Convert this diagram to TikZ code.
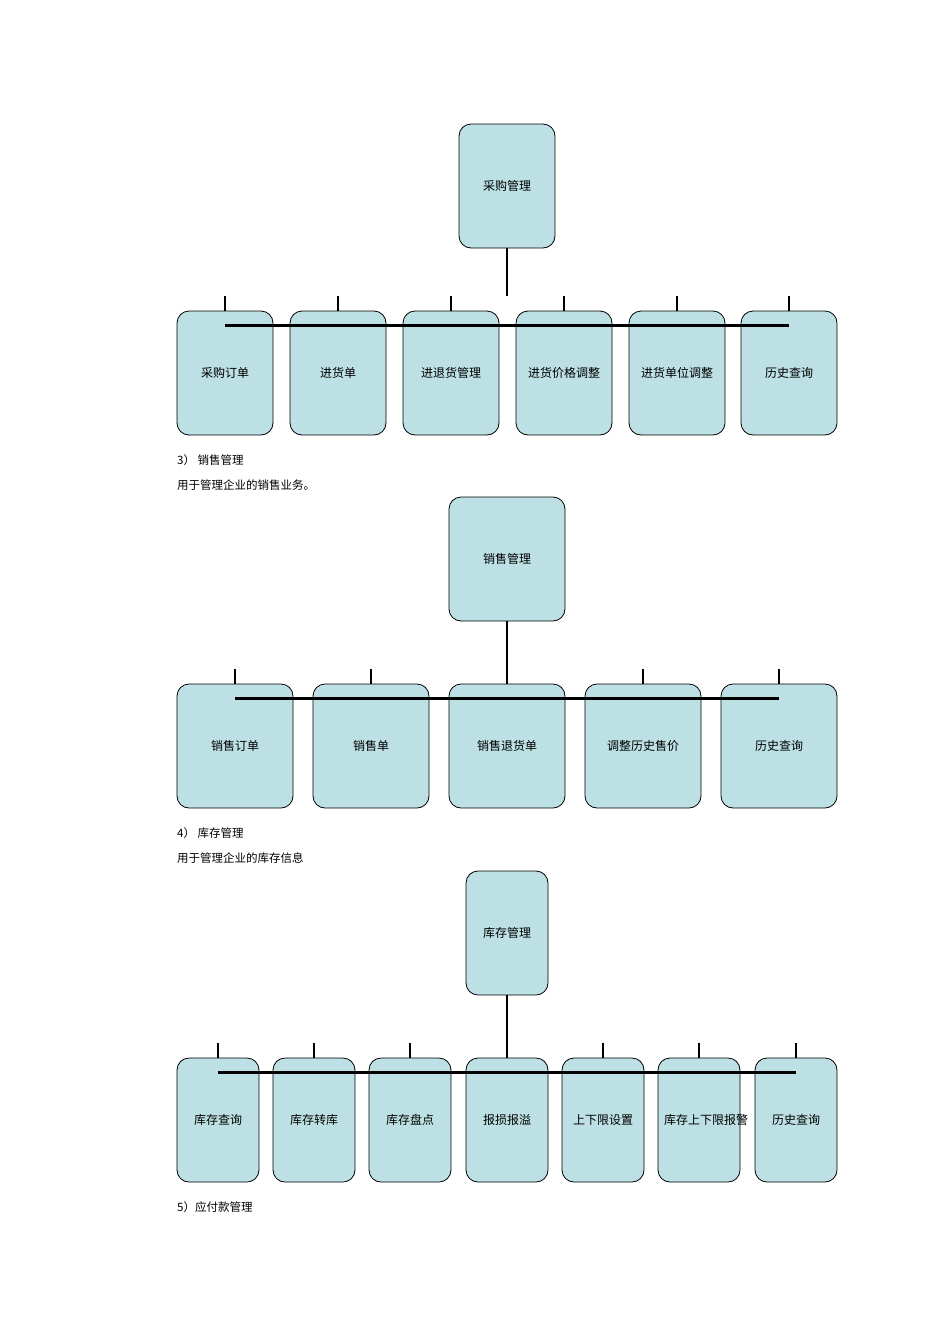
\documentclass[tikz,border=0pt]{standalone}
\usepackage{fontspec}
\setmainfont{Noto Sans CJK SC}
\definecolor{boxc}{HTML}{BCE0E3}
\begin{document}
\begin{tikzpicture}[x=1pt,y=-1pt,
  bx/.style={draw=black,line width=0.8pt,fill=boxc,rounded corners=12pt,align=center,font=\fontsize{12}{13}\selectfont,inner sep=2pt},
  ln/.style={line width=2.6pt},
  tx/.style={anchor=west,font=\fontsize{11.5}{13}\selectfont,inner sep=0pt}]
\useasboundingbox (0,0) rectangle (950,1344);
\newcommand{\bxn}[6]{\node[bx,minimum width=#4pt,minimum height=124pt,text width=#4pt-8pt] (#1) at (#2,#3) {#6};}
% diagram 1
\node[bx,minimum width=96pt,minimum height=124pt] (t1) at (507,186) {采购管理};
\foreach \n/\x/\s in {a/225/采购订单,b/338/进货单,c/451/进退货管理,d/564/进货价格调整,e/677/进货单位调整,f/789/历史查询}{
  \node[bx,minimum width=96pt,minimum height=124pt,text width=88pt] (\n1) at (\x,373) {\s};
  \draw[ln] (\n1.north) -- ++(0,-15);
}
\draw[ln] (t1.south) -- (507,296);
\draw[ln] ([yshift=-15pt]a1.north) -- ([yshift=-15pt]f1.north);
\node[tx] (h3) at (177,460) {3） 销售管理};
\node[tx] (d3) at (177,485) {用于管理企业的销售业务。};
% diagram 2
\node[bx,minimum width=116pt,minimum height=124pt] (t2) at (507,559) {销售管理};
\foreach \n/\x/\s in {a/235/销售订单,b/371/销售单,c/507/销售退货单,d/643/调整历史售价,e/779/历史查询}{
  \node[bx,minimum width=116pt,minimum height=124pt,text width=108pt] (\n2) at (\x,746) {\s};
  \draw[ln] (\n2.north) -- ++(0,-15);
}
\draw[ln] (t2.south) -- (c2.north);
\draw[ln] ([yshift=-15pt]a2.north) -- ([yshift=-15pt]e2.north);
\node[tx] (h4) at (177,833) {4） 库存管理};
\node[tx] (d4) at (177,858) {用于管理企业的库存信息};
% diagram 3
\node[bx,minimum width=82pt,minimum height=124pt] (t3) at (507,933) {库存管理};
\foreach \n/\x/\s in {a/218/库存查询,b/314/库存转库,c/410/库存盘点,d/507/报损报溢,e/603/上下限设置,f/699/库存上下限报警,g/796/历史查询}{
  \node[bx,minimum width=82pt,minimum height=124pt,text width=70pt] (\n3) at (\x,1120) {\s};
  \draw[ln] (\n3.north) -- ++(0,-15);
}
\draw[ln] (t3.south) -- (d3.north);
\draw[ln] ([yshift=-15pt]a3.north) -- ([yshift=-15pt]g3.north);
\node[tx] (h5) at (177,1207) {5）应付款管理};
\end{tikzpicture}
\end{document}
